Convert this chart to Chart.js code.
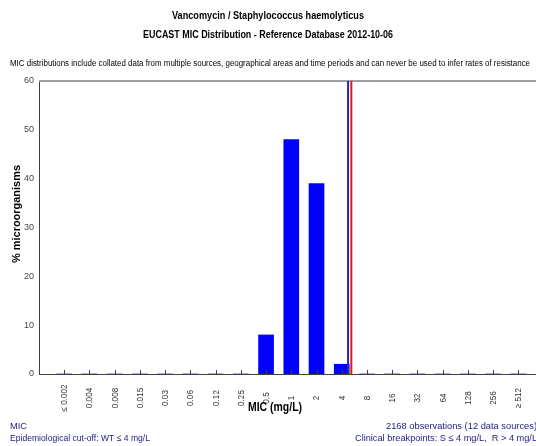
<!DOCTYPE html>
<html>
<head>
<meta charset="utf-8">
<script src="https://cdn.jsdelivr.net/npm/chart.js@4.4.1/dist/chart.umd.min.js"></script>
<style>
  html, body { margin: 0; padding: 0; background: #fff; }
  #wrap { width: 536px; height: 446px; }
</style>
</head>
<body>
<div id="wrap"><canvas id="mic-chart" width="536" height="446"></canvas></div>
<script>
// MIC classes and % of isolates
const micLabels = ['≤ 0.002', '0.004', '0.008', '0.015', '0.03', '0.06', '0.12', '0.25',
  '0.5', '1', '2', '4', '8', '16', '32', '64', '128', '256', '≥ 512'];
const micPercent = [0, 0, 0, 0, 0, 0, 0, 0, 8, 48, 39, 2, 0, 0, 0, 0, 0, 0, 0];
const yTicks = [0, 10, 20, 30, 40, 50, 60];
const ecoffClass = '4';      // WT <= 4
const breakpointClass = '4'; // S <= 4, R > 4

const titleLines = ['Vancomycin / Staphylococcus haemolyticus',
  'EUCAST MIC Distribution - Reference Database 2012-10-06'];
const disclaimer = 'MIC distributions include collated data from multiple sources, geographical areas and time periods and can never be used to infer rates of resistance';
const footLeft = ['MIC', 'Epidemiological cut-off: WT ≤ 4 mg/L'];
const footRight = ['2168 observations (12 data sources)', 'Clinical breakpoints: S ≤ 4 mg/L,  R > 4 mg/L'];

const FONT = 'Arial, "Liberation Sans", sans-serif';

const barData = micPercent.map((v, i) => ({ x: i, y: v }));

// the original renders text a bit narrower than Arial, so squeeze with maxWidth
function squeezed(c, text, x, y, k) {
  c.fillText(text, x, y, c.measureText(text).width * k);
}

const extras = {
  id: 'extras',
  afterDatasetsDraw(chart) {
    const c = chart.ctx;
    const a = chart.chartArea;
    const xs = chart.scales.x;
    c.save();

    // top frame line
    c.strokeStyle = '#a0a0a0';
    c.lineWidth = 2;
    c.beginPath(); c.moveTo(a.left, a.top); c.lineTo(a.right, a.top); c.stroke();

    // inward tick marks on x axis
    c.strokeStyle = '#404040';
    c.lineWidth = 1;
    micLabels.forEach((l, i) => {
      const px = Math.round(xs.getPixelForValue(i)) + 0.5;
      c.beginPath(); c.moveTo(px, a.bottom); c.lineTo(px, a.bottom - 4); c.stroke();
    });

    // ECOFF (blue) and breakpoint (red) lines, just right of the class
    const bx = xs.getPixelForValue(micLabels.indexOf(ecoffClass) + 0.25);
    const rx = xs.getPixelForValue(micLabels.indexOf(breakpointClass) + 0.38);
    c.lineWidth = 2;
    c.strokeStyle = '#2828a8';
    c.beginPath(); c.moveTo(bx, a.top); c.lineTo(bx, a.bottom); c.stroke();
    c.strokeStyle = '#e01818';
    c.beginPath(); c.moveTo(rx, a.top); c.lineTo(rx, a.bottom); c.stroke();

    // rotated x tick labels, centred on a common line
    c.fillStyle = '#333';
    c.font = '9px ' + FONT;
    c.textAlign = 'center';
    c.textBaseline = 'middle';
    micLabels.forEach((l, i) => {
      c.save();
      c.translate(xs.getPixelForValue(i) + 0.5, a.bottom + 24);
      c.rotate(-Math.PI / 2);
      squeezed(c, l, 0, 0, 0.9);
      c.restore();
    });

    // axis titles
    c.fillStyle = '#000';
    c.font = 'bold 12px ' + FONT;
    c.fillText('MIC (mg/L)', 275, 408, 54);
    c.save();
    c.translate(17, 214);
    c.rotate(-Math.PI / 2);
    c.font = 'bold 11px ' + FONT;
    c.fillText('% microorganisms', 0, 0, 98);
    c.restore();

    // titles
    c.font = 'bold 10.5px ' + FONT;
    c.fillText(titleLines[0], 268, 16, 192);
    c.fillText(titleLines[1], 268, 35, 250);
    c.font = '8.5px ' + FONT;
    c.fillText(disclaimer, 270, 64, 520);

    // footers
    c.fillStyle = '#1c1c80';
    c.font = '9.5px ' + FONT;
    c.textAlign = 'left';
    c.fillText(footLeft[0], 10, 426, 17);
    c.fillText(footLeft[1], 10, 438, 140);
    c.textAlign = 'right';
    c.fillText(footRight[0], 537, 426, 151);
    c.fillText(footRight[1], 537, 438, 182);
    c.restore();
  }
};

new Chart(document.getElementById('mic-chart'), {
  type: 'bar',
  data: {
    datasets: [{
      data: barData,
      backgroundColor: '#0000ff',
      borderWidth: 0,
      barThickness: 15
    }]
  },
  options: {
    responsive: false,
    animation: false,
    layout: { padding: { top: 81, right: 0, left: 0, bottom: 0 } },
    plugins: {
      legend: { display: false },
      title: { display: false },
      tooltip: { enabled: false }
    },
    scales: {
      x: {
        type: 'linear',
        offset: false,
        min: -1,
        max: 18.7, // the original plot runs past the right edge
        grid: { display: false, offset: false, drawTicks: false },
        border: { display: true, color: '#404040', width: 1 },
        ticks: { display: false },
        afterFit(s) { s.height = 72; }
      },
      y: {
        min: 0,
        max: 60,
        afterBuildTicks(s) { s.ticks = yTicks.map(v => ({ value: v })); },
        grid: { display: false, drawTicks: false },
        border: { display: true, color: '#404040', width: 1 },
        ticks: {
          color: '#444',
          padding: 5,
          font: { family: FONT, size: 9 }
        },
        afterFit(s) { s.width = 39; }
      }
    }
  },
  plugins: [extras]
});
</script>
</body>
</html>
